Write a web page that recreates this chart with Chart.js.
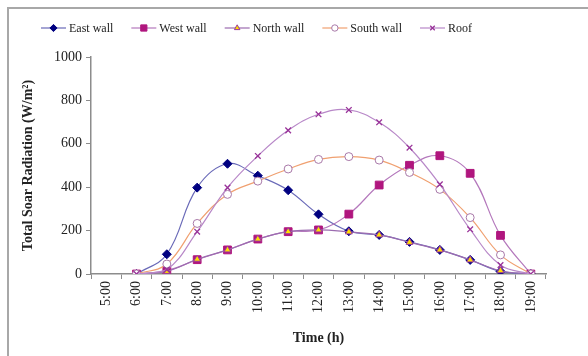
<!DOCTYPE html>
<html>
<head>
<meta charset="utf-8">
<script src="https://cdn.jsdelivr.net/npm/chart.js@4.4.1/dist/chart.umd.min.js"></script>
<style>
  html, body { margin: 0; padding: 0; background: #fff; }
  #wrap { width: 588px; height: 356px; position: relative; }
</style>
</head>
<body>
<div id="wrap"><canvas id="solarChart" width="588" height="356"></canvas></div>
<script>
// Hours of the day (5:00 has no data)
const hours = ["5:00", "6:00", "7:00", "8:00", "9:00", "10:00", "11:00", "12:00",
               "13:00", "14:00", "15:00", "16:00", "17:00", "18:00", "19:00"];

// Total solar radiation, W/m2
const eastWall  = [null, 0, 91, 398, 508, 453, 386, 275, 197, 180, 148, 111, 65, 12, 0];
const westWall  = [null, 0, 16, 66, 111, 161, 195, 203, 276, 410, 501, 545, 464, 178, 0];
const northWall = [null, 0, 12, 68, 111, 161, 195, 203, 194, 180, 146, 111, 65, 15, 0];
const southWall = [null, 0, 46, 233, 367, 428, 484, 528, 541, 525, 468, 390, 260, 88, 0];
const roof      = [null, 0, 20, 195, 398, 544, 662, 736, 756, 699, 582, 413, 206, 41, 0];

const yTicks = [0, 200, 400, 600, 800, 1000];

const serif = "'Liberation Serif', 'Times New Roman', serif";

document.addEventListener("DOMContentLoaded", function () {
    // Grey frame cut off at the right and bottom, like the source picture
    const framePlugin = {
        id: "frame",
        beforeDraw(chart) {
            const ctx = chart.ctx;
            ctx.save();
            ctx.strokeStyle = "#a8a8a8";
            ctx.lineWidth = 2;
            ctx.beginPath();
            ctx.moveTo(8, 356);
            ctx.lineTo(8, 8);
            ctx.lineTo(588, 8);
            ctx.stroke();
            ctx.restore();
        }
    };

    // Excel style legend: short line with the marker in the middle
    const lineLegend = {
        id: "lineLegend",
        afterDraw(chart) {
            const ctx = chart.ctx;
            let x = 41;
            const y = 28;
            ctx.save();
            ctx.font = "12px " + serif;
            ctx.textBaseline = "middle";
            chart.data.datasets.forEach(ds => {
                ctx.strokeStyle = ds.borderColor;
                ctx.lineWidth = 1.2;
                ctx.beginPath();
                ctx.moveTo(x, y);
                ctx.lineTo(x + 25, y);
                ctx.stroke();
                ctx.fillStyle = ds.pointBackgroundColor;
                ctx.strokeStyle = ds.pointBorderColor;
                ctx.lineWidth = ds.pointBorderWidth;
                Chart.helpers.drawPoint(ctx, {
                    pointStyle: ds.pointStyle,
                    radius: ds.pointRadius * 0.8,
                    borderWidth: ds.pointBorderWidth
                }, x + 12.5, y);
                ctx.fillStyle = "#222";
                ctx.fillText(ds.label, x + 28, y + 1);
                x += 28 + ctx.measureText(ds.label).width + 18;
            });
            ctx.restore();
        }
    };

    const ctx = document.getElementById("solarChart").getContext("2d");
    new Chart(ctx, {
        type: "line",
        data: {
            labels: hours,
            datasets: [
                {
                    label: "East wall",
                    data: eastWall,
                    order: 5,
                    borderColor: "#6a6ab8",
                    pointStyle: "rectRot",
                    pointRadius: 4.5,
                    pointBackgroundColor: "#000080",
                    pointBorderColor: "#000080",
                    pointBorderWidth: 1,
                },
                {
                    label: "West wall",
                    data: westWall,
                    order: 4,
                    borderColor: "#b478bc",
                    pointStyle: "rect",
                    pointRadius: 5.5,
                    pointBackgroundColor: "#b0167e",
                    pointBorderColor: "#b0167e",
                    pointBorderWidth: 1,
                },
                {
                    label: "North wall",
                    data: northWall,
                    order: 3,
                    borderColor: "#9c6cb0",
                    pointStyle: "triangle",
                    pointRadius: 4,
                    pointBackgroundColor: "#ffe000",
                    pointBorderColor: "#9a3a9a",
                    pointBorderWidth: 1,
                },
                {
                    label: "South wall",
                    data: southWall,
                    order: 2,
                    borderColor: "#f0a070",
                    pointStyle: "circle",
                    pointRadius: 4,
                    pointBackgroundColor: "#ffffff",
                    pointBorderColor: "#a878a8",
                    pointBorderWidth: 1,
                },
                {
                    label: "Roof",
                    data: roof,
                    order: 1,
                    borderColor: "#b888c8",
                    pointStyle: "crossRot",
                    pointRadius: 4,
                    pointBackgroundColor: "#993399",
                    pointBorderColor: "#993399",
                    pointBorderWidth: 1.3,
                },
            ].map(ds => Object.assign(ds, {
                borderWidth: 1.2,
                tension: 0.4,
                fill: false,
                spanGaps: false,
            })),
        },
        options: {
            responsive: false,
            animation: false,
            layout: {
                padding: { top: 57, right: 42, bottom: 0, left: 0 }
            },
            plugins: {
                legend: { display: false },
                tooltip: { enabled: false },
            },
            scales: {
                x: {
                    offset: true,
                    grid: {
                        offset: true,
                        drawOnChartArea: false,
                        tickLength: 5,
                        color: "#8c8c8c",
                    },
                    border: { color: "#8c8c8c", width: 1.5 },
                    ticks: {
                        minRotation: 90,
                        maxRotation: 90,
                        padding: 2,
                        color: "#222",
                        font: { family: serif, size: 14 },
                        autoSkip: false,
                    },
                    title: {
                        display: true,
                        text: "Time (h)",
                        color: "#222",
                        font: { family: serif, size: 14, weight: "bold" },
                        padding: { top: 2, bottom: 9 },
                    },
                    afterFit(scale) { scale.height = 82; },
                },
                y: {
                    min: 0,
                    max: 1000,
                    afterBuildTicks(scale) {
                        scale.ticks = yTicks.map(v => ({ value: v }));
                    },
                    grid: {
                        drawOnChartArea: false,
                        tickLength: 5,
                        color: "#8c8c8c",
                    },
                    border: { color: "#8c8c8c", width: 1.5 },
                    ticks: {
                        padding: 4,
                        color: "#222",
                        font: { family: serif, size: 14 },
                        callback: v => String(v),
                    },
                    title: {
                        display: true,
                        text: "Total Soar Radiation (W/m²)",
                        color: "#222",
                        font: { family: serif, size: 14, weight: "bold" },
                        padding: { top: 20, bottom: 0 },
                    },
                    afterFit(scale) { scale.width = 91; },
                },
            },
        },
        plugins: [framePlugin, lineLegend],
    });
});
</script>
</body>
</html>
